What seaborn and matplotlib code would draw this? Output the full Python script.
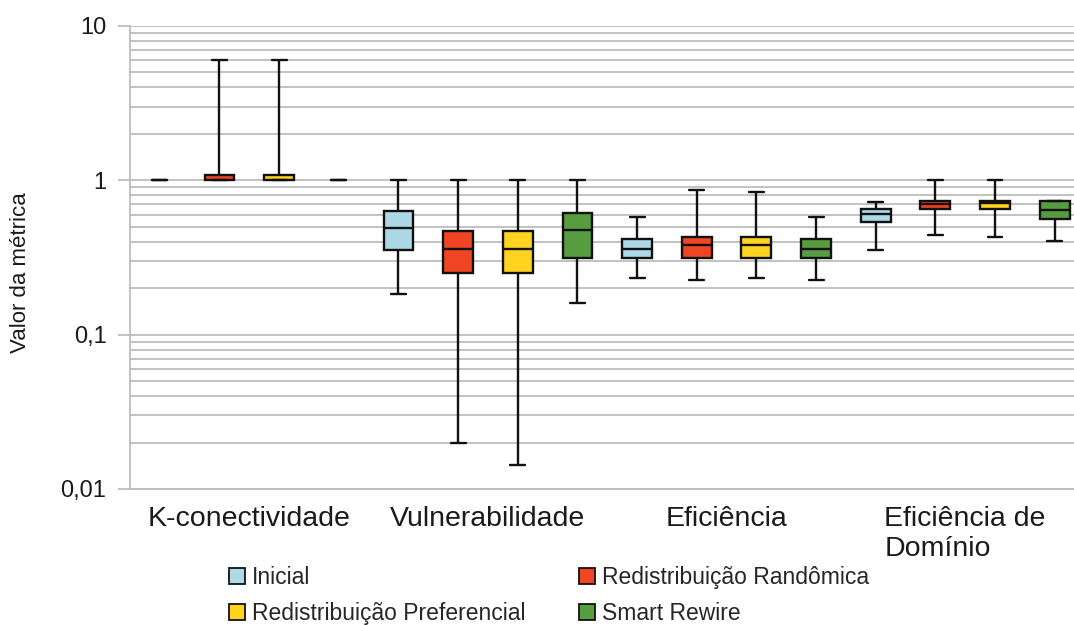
import numpy as np
import pandas as pd
import seaborn as sns
import matplotlib
matplotlib.use("Agg")
import matplotlib.pyplot as plt
from matplotlib.patches import Patch
from matplotlib.ticker import LogLocator, FixedLocator, FixedFormatter, NullFormatter

# ---- data (five-number summaries: min, q1, median, q3, max) ----
metrics = ["K-conectividade", "Vulnerabilidade", "Eficiência", "Eficiência de\nDomínio"]
methods = ["Inicial", "Redistribuição Randômica", "Redistribuição Preferencial", "Smart Rewire"]

inicial = [
    [1.0, 1.0, 1.0, 1.0, 1.0],
    [0.184, 0.352, 0.494, 0.632, 1.0],
    [0.232, 0.315, 0.361, 0.415, 0.582],
    [0.352, 0.537, 0.602, 0.655, 0.727],
]
randomica = [
    [1.0, 1.0, 1.0, 1.09, 6.0],
    [0.0200, 0.251, 0.361, 0.467, 1.0],
    [0.225, 0.314, 0.383, 0.427, 0.865],
    [0.440, 0.652, 0.703, 0.731, 1.0],
]
preferencial = [
    [1.0, 1.0, 1.0, 1.09, 6.0],
    [0.0143, 0.251, 0.361, 0.467, 1.0],
    [0.232, 0.314, 0.383, 0.427, 0.840],
    [0.427, 0.649, 0.709, 0.735, 1.0],
]
smart = [
    [1.0, 1.0, 1.0, 1.0, 1.0],
    [0.160, 0.314, 0.479, 0.618, 1.0],
    [0.225, 0.314, 0.361, 0.415, 0.582],
    [0.404, 0.565, 0.639, 0.731, 0.731],
]
series = [inicial, randomica, preferencial, smart]
colors = ["#add8e6", "#ef4522", "#ffd320", "#579d3f"]

y_ticks = [0.01, 0.1, 1, 10]
y_ticklabels = ["0,01", "0,1", "1", "10"]

rows = []
for meth, summ in zip(methods, series):
    for met, five in zip(metrics, summ):
        for v in five:
            rows.append({"metric": met, "method": meth, "value": v})
df = pd.DataFrame(rows)

# ---- figure ----
sns.set_style("white")
plt.rcParams["font.family"] = ["Liberation Sans", "DejaVu Sans"]

W, H = 1074, 625
fig = plt.figure(figsize=(W / 100, H / 100), dpi=100)
ax = fig.add_axes([130 / W, 1 - 489 / H, (1084.5 - 130) / W, (489 - 26) / H])

sns.boxplot(
    data=df, x="metric", y="value", hue="method", order=metrics, hue_order=methods,
    palette=colors, saturation=1, width=1.0, gap=0.5, whis=(0, 100), linecolor="#111111",
    linewidth=1.7, fliersize=0, log_scale=True, legend=False, ax=ax,
)

# hide degenerate (zero-height) boxes and their medians
for p in ax.patches:
    ext = p.get_path().get_extents()
    if ext.height < 1e-9:
        p.set_visible(False)
for ln in ax.lines:
    xd, yd = np.asarray(ln.get_xdata(), float), np.asarray(ln.get_ydata(), float)
    if len(yd) == 2 and np.allclose(yd, 1.0) and abs(xd[1] - xd[0]) > 0.1:
        ln.set_visible(False)

ax.set_ylim(0.01, 10)
ax.set_xlim(-0.5, 3.5)
ax.yaxis.set_major_locator(FixedLocator(y_ticks))
ax.yaxis.set_major_formatter(FixedFormatter(y_ticklabels))
ax.yaxis.set_minor_locator(LogLocator(base=10, subs=np.arange(2, 10)))
ax.yaxis.set_minor_formatter(NullFormatter())
ax.grid(False)
ax.yaxis.grid(True, which="both", color="#bdbdbd", linewidth=1.3)
ax.set_axisbelow(True)

ax.xaxis.set_minor_locator(FixedLocator([-0.5, 0.5, 1.5, 2.5, 3.5]))
ax.tick_params(axis="x", which="major", length=0, pad=12, labelsize=20.5, labelcolor="#1a1a1a")
ax.tick_params(axis="x", which="minor", length=10, width=1.3, color="#bdbdbd", direction="out")
ax.tick_params(axis="y", which="major", length=9, width=1.3, color="#bdbdbd", pad=8,
               labelsize=17, labelcolor="#1a1a1a", direction="out", left=True)
ax.tick_params(axis="y", which="minor", length=0)
for lbl in ax.get_xticklabels():
    lbl.set_multialignment("left")

for s in ["top", "right"]:
    ax.spines[s].set_visible(False)
for s in ["left", "bottom"]:
    ax.spines[s].set_color("#bdbdbd")
    ax.spines[s].set_linewidth(1.3)

ax.set_xlabel("")
ax.set_ylabel("Valor da métrica", fontsize=16, color="#1a1a1a")
ax.yaxis.set_label_coords(-0.104, 0.468)

handles = [Patch(facecolor=c, edgecolor="#111111", linewidth=1.3, label=m)
           for c, m in zip(colors, methods)]
order = [0, 2, 1, 3]
fig.legend([handles[i] for i in order], [methods[i] for i in order],
           loc="upper left", bbox_to_anchor=(229 / W, 1 - 566 / H), ncol=2,
           frameon=False, fontsize=16.5, handlelength=0.7, handleheight=0.7,
           handletextpad=0.3, columnspacing=2.35, labelspacing=0.55, borderpad=0,
           borderaxespad=0)

fig.savefig("out.png", dpi=100)
